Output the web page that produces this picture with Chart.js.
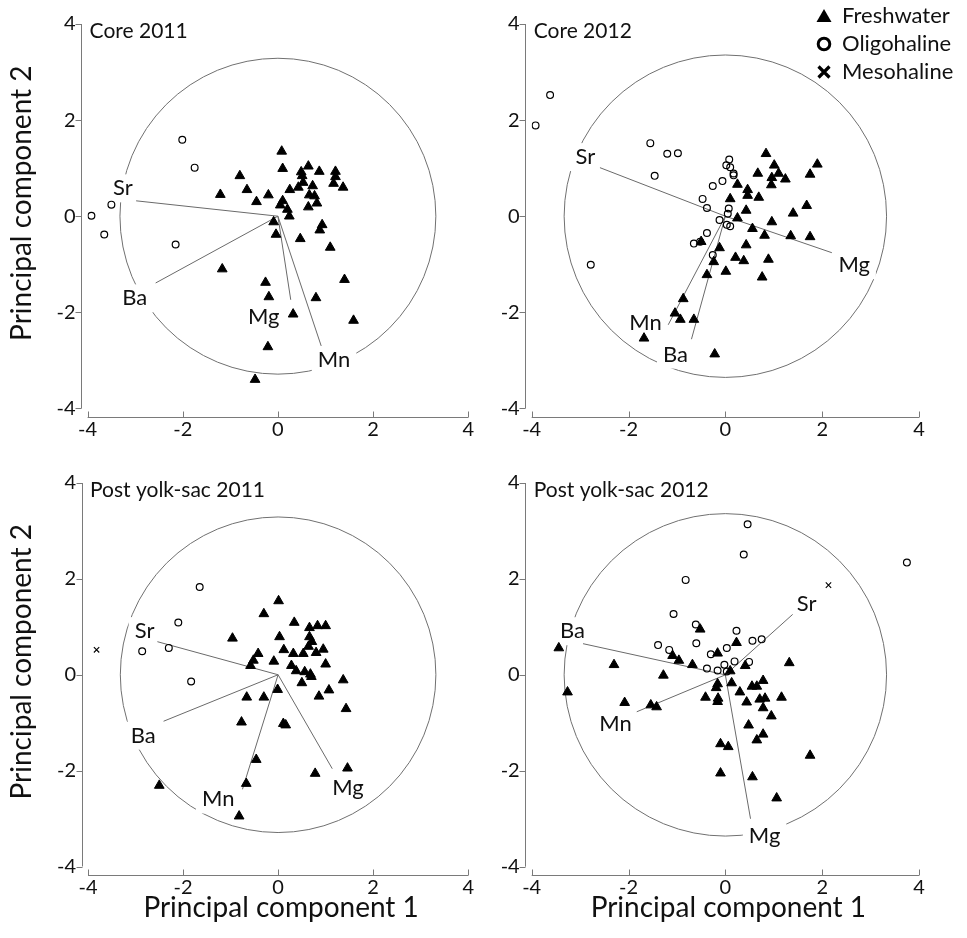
<!DOCTYPE html>
<html>
<head>
<meta charset="utf-8">
<script src="https://cdn.jsdelivr.net/npm/chart.js@4.4.1/dist/chart.umd.min.js"></script>
<style>
  html, body { margin: 0; padding: 0; background: #fff; }
  #wrap { position: relative; width: 967px; height: 938px; overflow: hidden; }
  .panel { position: absolute; }
</style>
</head>
<body>
<div id="wrap">
  <div class="panel" style="left:0;top:0"><canvas id="p0" width="483" height="469"></canvas></div>
  <div class="panel" style="left:483px;top:0"><canvas id="p1" width="484" height="469"></canvas></div>
  <div class="panel" style="left:0;top:459px"><canvas id="p2" width="483" height="479"></canvas></div>
  <div class="panel" style="left:483px;top:459px"><canvas id="p3" width="484" height="479"></canvas></div>
</div>
<script>
const axisTicks = [-4, -2, 0, 2, 4];
const groupNames = ['Freshwater', 'Oligohaline', 'Mesohaline'];
const loadingNames = ['Sr', 'Ba', 'Mg', 'Mn'];
const panelTitles = ['Core 2011', 'Core 2012', 'Post yolk-sac 2011', 'Post yolk-sac 2012'];
const circleRadius = [3.32, 3.33, 3.32, 3.33];

// Core 2011
const core11Fresh = [[0.08,1.35],[0.10,0.99],[0.64,1.04],[0.87,0.93],[0.49,0.92],[1.21,0.93],[-0.80,0.84],[0.51,0.84],
  [1.21,0.82],[0.53,0.70],[1.17,0.68],[0.73,0.63],[1.37,0.60],[-0.65,0.55],[0.25,0.55],[0.43,0.60],[-1.21,0.45],
  [-0.20,0.44],[0.66,0.44],[0.77,0.42],[-0.45,0.30],[0.10,0.32],[0.05,0.23],[0.82,0.27],[0.64,0.19],[0.20,0.14],
  [0.24,0.00],[-0.09,-0.12],[0.93,-0.18],[0.88,-0.29],[-0.04,-0.38],[0.47,-0.47],[1.10,-0.65],[-1.17,-1.10],
  [-0.26,-1.38],[1.40,-1.32],[-0.19,-1.68],[0.80,-1.70],[0.32,-2.04],[1.59,-2.17],[-0.21,-2.72],[-0.48,-3.40]];
const core11Oligo = [[-2.01,1.59],[-1.75,1.01],[-3.50,0.24],[-3.92,0.01],[-3.65,-0.38],[-2.15,-0.59]];
const core11Meso = [];
const core11LoadEnd = [[-2.98,0.32],[-2.57,-1.39],[0.27,-1.74],[0.91,-2.70]];
const core11LoadText = [[-3.26,0.58],[-3.01,-1.71],[-0.30,-2.10],[1.18,-2.99]];

// Core 2012
const core12Fresh = [[0.84,1.30],[1.01,1.06],[1.90,1.08],[0.67,0.89],[1.10,0.89],[0.96,0.80],[1.24,0.77],[1.75,0.87],
  [0.25,0.66],[0.95,0.65],[0.46,0.55],[0.46,0.43],[0.69,0.39],[0.10,0.36],[1.68,0.22],[0.43,0.12],[1.40,0.06],
  [0.25,-0.04],[0.96,-0.12],[0.56,-0.26],[0.81,-0.40],[1.35,-0.41],[1.75,-0.43],[0.43,-0.60],[-0.12,-0.66],
  [-0.50,-0.53],[0.21,-0.86],[0.38,-0.93],[0.89,-0.90],[-0.24,-0.95],[0.01,-1.15],[-0.38,-1.22],[0.76,-1.27],
  [-0.87,-1.72],[-1.04,-2.02],[-0.93,-2.15],[-0.65,-2.15],[-1.68,-2.54],[-0.22,-2.87]];
const core12Oligo = [[-3.62,2.52],[-3.92,1.89],[-1.55,1.52],[-1.20,1.30],[-0.98,1.31],[-1.46,0.84],[0.08,1.18],
  [0.02,1.06],[0.10,1.02],[0.17,0.89],[0.17,0.85],[-0.06,0.73],[-0.26,0.63],[-0.47,0.36],[-0.38,0.17],[0.07,0.16],
  [0.05,0.05],[-0.12,-0.08],[0.03,-0.18],[0.10,-0.21],[-0.38,-0.35],[-0.65,-0.57],[-0.52,-0.53],[-0.26,-0.81],
  [-2.78,-1.01]];
const core12Meso = [];
const core12LoadEnd = [[-2.59,1.01],[-0.70,-2.56],[2.20,-0.76],[-1.18,-2.26]];
const core12LoadText = [[-2.89,1.23],[-1.03,-2.88],[2.66,-1.02],[-1.65,-2.22]];

// Post yolk-sac 2011
const pys11Fresh = [[0.01,1.54],[-0.30,1.27],[0.34,1.09],[0.66,0.98],[0.83,1.02],[1.00,1.02],[-0.96,0.76],[0.03,0.79],
  [0.66,0.79],[0.71,0.69],[0.64,0.59],[0.12,0.52],[0.32,0.44],[0.53,0.44],[0.80,0.46],[0.95,0.53],[-0.42,0.44],
  [-0.52,0.30],[-0.09,0.28],[-0.58,0.19],[0.28,0.19],[0.38,0.08],[0.56,0.06],[1.00,0.22],[0.68,0.01],[0.70,-0.04],
  [0.50,-0.17],[1.37,-0.11],[-0.01,-0.31],[1.07,-0.32],[0.86,-0.45],[-0.66,-0.47],[-0.30,-0.47],[1.43,-0.71],
  [-0.77,-0.99],[0.11,-1.02],[0.16,-1.05],[-0.46,-1.77],[1.46,-1.95],[0.78,-2.06],[-0.67,-2.27],[-2.50,-2.31],
  [-0.82,-2.95]];
const pys11Oligo = [[-1.65,1.83],[-2.10,1.09],[-2.86,0.49],[-2.30,0.56],[-1.83,-0.14]];
const pys11Meso = [[-3.82,0.52]];
const pys11LoadEnd = [[-2.54,0.69],[-2.41,-0.97],[1.14,-1.96],[-0.75,-2.39]];
const pys11LoadText = [[-2.81,0.91],[-2.84,-1.27],[1.47,-2.37],[-1.26,-2.60]];

// Post yolk-sac 2012
const pys12Fresh = [[-0.52,0.95],[0.23,0.67],[-3.44,0.56],[-1.09,0.40],[-0.96,0.30],[-0.16,0.45],[-0.68,0.21],
  [-2.30,0.21],[0.41,0.19],[1.32,0.25],[-1.28,-0.01],[0.10,0.08],[-3.26,-0.36],[-0.16,-0.19],[0.13,-0.17],
  [-0.19,-0.27],[0.55,-0.24],[0.65,-0.24],[0.78,-0.12],[0.30,-0.36],[-2.08,-0.58],[-1.54,-0.63],[-1.42,-0.67],
  [-0.41,-0.47],[-0.15,-0.49],[-0.16,-0.56],[0.44,-0.57],[0.71,-0.51],[0.82,-0.49],[1.16,-0.47],[0.78,-0.69],
  [0.95,-0.86],[0.48,-1.05],[0.78,-1.24],[0.65,-1.36],[-0.10,-1.44],[0.06,-1.50],[1.75,-1.68],[-0.10,-2.05],
  [0.56,-2.13],[1.06,-2.57]];
const pys12Oligo = [[0.46,3.14],[0.38,2.51],[3.75,2.34],[-0.82,1.98],[-1.07,1.27],[-0.61,1.05],[0.23,0.92],
  [0.75,0.74],[0.56,0.71],[-1.39,0.62],[-0.60,0.66],[0.03,0.56],[-1.16,0.52],[-0.30,0.43],[0.19,0.28],[0.49,0.27],
  [-0.02,0.21],[-0.38,0.13],[-0.16,0.09],[0.03,0.07]];
const pys12Meso = [[2.13,1.87]];
const pys12LoadEnd = [[1.39,1.26],[-2.94,0.65],[0.52,-3.00],[-1.83,-0.77]];
const pys12LoadText = [[1.68,1.48],[-3.16,0.91],[0.81,-3.36],[-2.27,-1.03]];

const TXT = '#111';
const FONT = 'Lato';

const pcaDecor = {
  id: 'pcaDecor',
  beforeDatasetsDraw(chart, args, o) {
    const {ctx, scales: {x, y}} = chart;
    const cx = x.getPixelForValue(0);
    const cy = y.getPixelForValue(0);
    const r = x.getPixelForValue(o.radius) - cx;
    ctx.save();
    ctx.strokeStyle = '#707070';
    ctx.lineWidth = 1;
    ctx.beginPath();
    ctx.arc(cx, cy, r, 0, Math.PI * 2);
    ctx.stroke();
    // blank the circle behind the loading labels
    ctx.font = '22px ' + FONT;
    ctx.fillStyle = '#fff';
    o.labels.forEach((p, i) => {
      const w = ctx.measureText(loadingNames[i]).width;
      ctx.fillRect(x.getPixelForValue(p[0]) - w / 2 - 6, y.getPixelForValue(p[1]) - 14, w + 12, 28);
    });
    ctx.restore();
  },
  afterDatasetsDraw(chart, args, o) {
    const {ctx, scales: {x, y}} = chart;
    ctx.save();
    ctx.fillStyle = TXT;
    ctx.font = '22px ' + FONT;
    ctx.textAlign = 'center';
    ctx.textBaseline = 'middle';
    o.labels.forEach((p, i) => {
      ctx.fillText(loadingNames[i], x.getPixelForValue(p[0]), y.getPixelForValue(p[1]));
    });

    ctx.textAlign = 'left';
    ctx.textBaseline = 'alphabetic';
    ctx.font = '21px ' + FONT;
    ctx.fillText(o.title, x.getPixelForValue(-4) + 2, y.getPixelForValue(4) + 14);

    // offset axis lines
    const x0 = x.getPixelForValue(-4), x1 = x.getPixelForValue(4);
    const yb = y.getPixelForValue(-4), yt = y.getPixelForValue(4);
    const sx = Math.round(x0 - 6.5) + 0.5, sy = Math.round(yb + 8.5) + 0.5;
    ctx.strokeStyle = '#7a7a7a';
    ctx.lineWidth = 1;
    ctx.beginPath();
    ctx.moveTo(sx, yt); ctx.lineTo(sx, yb);
    axisTicks.forEach(v => {
      const py = Math.round(y.getPixelForValue(v)) + 0.5;
      ctx.moveTo(sx - 6, py); ctx.lineTo(sx, py);
    });
    ctx.moveTo(x0, sy); ctx.lineTo(x1, sy);
    axisTicks.forEach(v => {
      const px = Math.round(x.getPixelForValue(v)) + 0.5;
      ctx.moveTo(px, sy); ctx.lineTo(px, sy - 6);
    });
    ctx.stroke();

    ctx.font = '28px ' + FONT;
    ctx.textAlign = 'center';
    ctx.textBaseline = 'middle';
    if (o.yTitle) {
      ctx.save();
      ctx.translate(22, y.getPixelForValue(0) - 13);
      ctx.rotate(-Math.PI / 2);
      ctx.fillText('Principal component 2', 0, 0);
      ctx.restore();
    }
    if (o.xTitle) {
      ctx.fillText('Principal component 1', x.getPixelForValue(0) + 3, yb + 41);
    }

    if (o.legend) {
      const lx = 341, tx = 359;
      const rows = [16, 44, 72];
      ctx.fillStyle = '#000';
      ctx.strokeStyle = '#000';
      // triangle
      ctx.beginPath();
      ctx.moveTo(lx, rows[0] - 7);
      ctx.lineTo(lx + 7.5, rows[0] + 6);
      ctx.lineTo(lx - 7.5, rows[0] + 6);
      ctx.closePath();
      ctx.fill();
      // bold ring
      ctx.lineWidth = 3;
      ctx.beginPath();
      ctx.arc(lx, rows[1], 5.8, 0, Math.PI * 2);
      ctx.stroke();
      // bold cross
      ctx.lineWidth = 3.2;
      ctx.beginPath();
      ctx.moveTo(lx - 5.5, rows[2] - 5.5); ctx.lineTo(lx + 5.5, rows[2] + 5.5);
      ctx.moveTo(lx + 5.5, rows[2] - 5.5); ctx.lineTo(lx - 5.5, rows[2] + 5.5);
      ctx.stroke();
      ctx.fillStyle = TXT;
      ctx.font = '22px ' + FONT;
      ctx.textAlign = 'left';
      groupNames.forEach((g, i) => ctx.fillText(g, tx, rows[i]));
    }
    ctx.restore();
  }
};

function toXY(arr) {
  return arr.map(p => ({x: p[0], y: p[1]}));
}

function buildPanel(canvasId, idx, fresh, oligo, meso, loadEnd, loadText, area, flags) {
  const cv = document.getElementById(canvasId);
  const datasets = [
    {label: groupNames[0], data: toXY(fresh), pointStyle: 'triangle', pointRadius: 5.6,
     pointBackgroundColor: '#000', pointBorderColor: '#000', pointBorderWidth: 1},
    {label: groupNames[1], data: toXY(oligo), pointStyle: 'circle', pointRadius: 3.4,
     pointBackgroundColor: 'rgba(0,0,0,0)', pointBorderColor: '#000', pointBorderWidth: 1.2},
    {label: groupNames[2], data: toXY(meso), pointStyle: 'crossRot', pointRadius: 3.8,
     pointBackgroundColor: '#000', pointBorderColor: '#000', pointBorderWidth: 1.1}
  ];
  loadEnd.forEach((p, i) => {
    datasets.push({
      label: loadingNames[i],
      data: [{x: 0, y: 0}, {x: p[0], y: p[1]}],
      showLine: true, pointRadius: 0, borderColor: '#6a6a6a', borderWidth: 1
    });
  });
  const tickFont = {family: FONT, size: 20};
  return new Chart(cv, {
    type: 'scatter',
    data: {datasets: datasets},
    options: {
      responsive: false,
      animation: false,
      events: [],
      layout: {padding: {left: 0, top: area.T, right: cv.width - area.R, bottom: 0}},
      scales: {
        x: {
          type: 'linear', min: -4, max: 4,
          afterFit: s => { s.height = cv.height - area.B; },
          ticks: {stepSize: 2, font: tickFont, color: TXT, padding: 9, maxRotation: 0},
          grid: {display: false, drawTicks: false},
          border: {display: false}
        },
        y: {
          type: 'linear', min: -4, max: 4,
          afterFit: s => { s.width = area.L; },
          ticks: {stepSize: 2, font: tickFont, color: TXT, padding: 12},
          grid: {display: false, drawTicks: false},
          border: {display: false}
        }
      },
      plugins: {
        legend: {display: false},
        tooltip: {enabled: false},
        pcaDecor: {
          title: panelTitles[idx], radius: circleRadius[idx], labels: loadText,
          yTitle: flags.yTitle, xTitle: flags.xTitle, legend: flags.legend
        }
      }
    },
    plugins: [pcaDecor]
  });
}

buildPanel('p0', 0, core11Fresh, core11Oligo, core11Meso, core11LoadEnd, core11LoadText,
  {L: 87.6, R: 475.8, T: 19.6, B: 408.4}, {yTitle: true});
buildPanel('p1', 1, core12Fresh, core12Oligo, core12Meso, core12LoadEnd, core12LoadText,
  {L: 48.7, R: 436, T: 19.6, B: 408.4}, {legend: true});
buildPanel('p2', 2, pys11Fresh, pys11Oligo, pys11Meso, pys11LoadEnd, pys11LoadText,
  {L: 88, R: 475.4, T: 19.3, B: 407.5}, {yTitle: true, xTitle: true});
buildPanel('p3', 3, pys12Fresh, pys12Oligo, pys12Meso, pys12LoadEnd, pys12LoadText,
  {L: 48.7, R: 436, T: 19.5, B: 407.7}, {xTitle: true});
</script>
</body>
</html>
